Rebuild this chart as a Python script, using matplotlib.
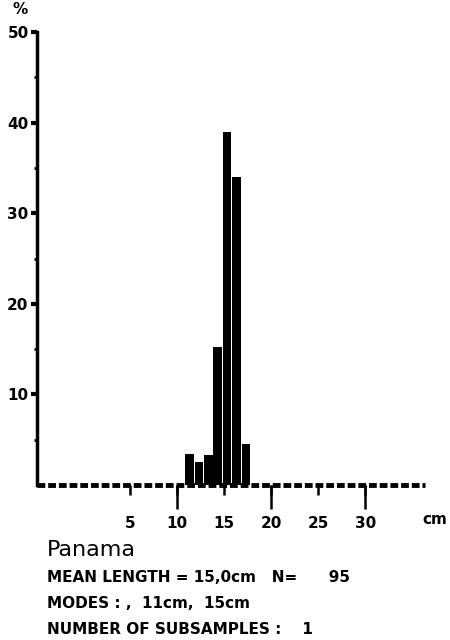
import matplotlib
matplotlib.use("Agg")
import matplotlib.pyplot as plt
import numpy as np

# length classes (cm) and frequency (%)
lengths = [11, 12, 13, 14, 15, 16, 17]
percent = [3.4, 2.6, 3.3, 15.2, 39.0, 34.0, 4.5]

y_ticks = [10, 20, 30, 40, 50]
y_minor = [5, 15, 25, 35, 45]
x_ticks = [5, 10, 15, 20, 25, 30]
x_long = [10, 20, 30]

country = "Panama"
info_lines = [
    "MEAN LENGTH = 15,0cm   N=      95",
    "MODES : ,  11cm,  15cm",
    "NUMBER OF SUBSAMPLES :    1",
]

narrow = ["Liberation Sans Narrow", "DejaVu Sans"]

fig = plt.figure(figsize=(4.5, 6.4), dpi=100)
ax = fig.add_axes([0.082, 0.242, 0.862, 0.708])

ax.bar(np.array(lengths) + 0.3, percent, width=0.92, color="black", zorder=3)

# dotted baseline made of little squares
ax.plot([-4.9, 36.3], [0, 0], color="black", lw=3.5, dashes=(1.6, 0.6),
        solid_capstyle="butt", zorder=2, clip_on=False)

ax.set_xlim(-4.9, 36.3)
ax.set_ylim(0, 50)

for s in ["top", "right", "bottom"]:
    ax.spines[s].set_visible(False)
ax.spines["left"].set_linewidth(2.5)

ax.set_yticks(y_ticks)
ax.set_yticks(y_minor, minor=True)
ax.set_yticklabels([str(v) for v in y_ticks], family=narrow, weight="bold",
                   fontsize=11)
ax.tick_params(axis="y", which="major", length=4, width=3, pad=2)
ax.tick_params(axis="y", which="minor", length=2, width=2)

ax.xaxis.remove_overlapping_locs = False
ax.set_xticks(x_ticks)
ax.set_xticks(x_long, minor=True)
ax.set_xticklabels([str(v) for v in x_ticks], family=narrow, weight="bold",
                   fontsize=11)
ax.tick_params(axis="x", which="major", length=7, width=1.8, pad=15)
ax.tick_params(axis="x", which="minor", length=17, width=1.8)

fig.text(20 / 450, 1 - 10 / 640, "%", family=narrow, weight="bold",
         fontsize=11, ha="center", va="center")
fig.text(435 / 450, 1 - 520 / 640, "cm", family=narrow, weight="bold",
         fontsize=11, ha="center", va="center")

fig.text(47 / 450, 1 - 550 / 640, country, fontsize=16, ha="left",
         va="center", family="DejaVu Sans")
for i, line in enumerate(info_lines):
    fig.text(47 / 450, 1 - (577 + 26.5 * i) / 640, line, family=narrow,
             weight="bold", fontsize=11, ha="left", va="center")

fig.savefig("out.png", dpi=100)
